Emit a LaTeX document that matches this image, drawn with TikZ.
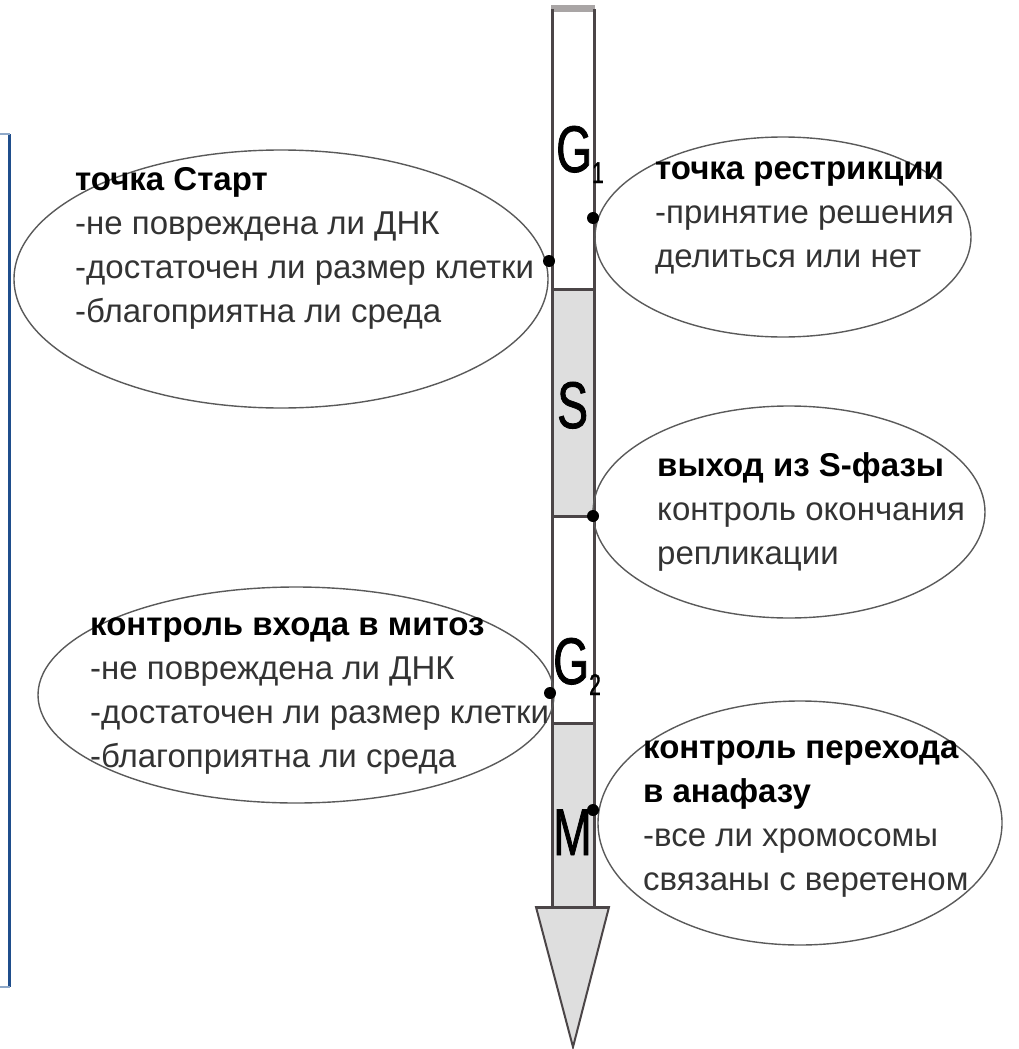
\documentclass[tikz,border=0pt]{standalone}
\usepackage{fontspec}
\setmainfont{Liberation Sans}
\newfontfamily\phasefont[FakeStretch=0.7,FakeBold=1.2]{Liberation Sans}
\usetikzlibrary{shapes.geometric}

\definecolor{shaftline}{HTML}{4B4547}
\definecolor{phasefill}{HTML}{DEDEDE}
\definecolor{capgray}{HTML}{A9A5A5}
\definecolor{ovalline}{HTML}{5A5A5A}
\definecolor{frameblue}{HTML}{1F4E8C}
\definecolor{framelight}{HTML}{8FA9C9}
\definecolor{bodytext}{HTML}{333333}

\newcommand{\ovalbold}[1]{{\color{black}\bfseries #1}}

\begin{document}
\begin{tikzpicture}[
	x=1pt, y=-1pt,
	check/.style={
		draw=ovalline, ellipse,
		line width=1.4pt,
		inner sep=0pt
	},
	note/.style={
		anchor=north west,
		align=left,
		inner sep=0pt,
		text=bodytext,
		font=\fontsize{33}{44}\selectfont,
		execute at begin node=\rule{0pt}{26pt}
	},
	dot/.style={
		circle, fill=black,
		inner sep=0pt,
		minimum size=12pt
	},
	phase/.style={
		anchor=base west,
		inner sep=0pt,
		font=\phasefont\fontsize{66}{66}\selectfont
	},
	shaft/.style={draw=shaftline, line width=3pt}
	]
	
	\useasboundingbox (0,0) rectangle (1019,1049);
	
	% frame edge on the left
	\draw[frameblue, line width=3pt] (9,134) -- (9,987);
	\draw[framelight, line width=2pt] (0,134) -- (10,134);
	\draw[framelight, line width=2pt] (0,987) -- (10,987);
	
	% cell cycle shaft
	\fill[phasefill] (552,289) rectangle (594,516);
	\fill[phasefill] (552,723) rectangle (594,907);
	\fill[capgray] (551,5) rectangle (595,12);
	\draw[shaft] (552,9) -- (552,907);
	\draw[shaft] (594,9) -- (594,907);
	\draw[shaft] (552,289) -- (594,289);
	\draw[shaft] (552,516) -- (594,516);
	\draw[shaft] (552,723) -- (594,723);
	\filldraw[draw=shaftline, fill=phasefill, line width=2pt] (536,907) -- (609,907) -- (573,1047) -- cycle;
	\draw[shaft] (536,907) -- (609,907);
	
	\node[phase] (g1) at (556,172) {G\raisebox{-11pt}{\fontsize{30}{30}\selectfont 1}};
	\node[phase] (s)  at (557,428) {S};
	\node[phase] (g2) at (553,684) {G\raisebox{-11pt}{\fontsize{30}{30}\selectfont 2}};
	\node[phase] (m)  at (553,855) {M};
	
	% checkpoints
	\node[check, minimum width=534pt, minimum height=258pt] (start) at (281,279) {};
	\node[check, minimum width=376pt, minimum height=200pt] (restr) at (783,237) {};
	\node[check, minimum width=392pt, minimum height=212pt] (sexit) at (789,512) {};
	\node[check, minimum width=516pt, minimum height=216pt] (mitos) at (296,695) {};
	\node[check, minimum width=404pt, minimum height=244pt] (anaph) at (800,823) {};
	
	\node[note] (startT) at (75,167) {\ovalbold{точка Старт}\\-не повреждена ли ДНК\\-достаточен ли размер клетки\\-благоприятна ли среда};
	\node[note] (restrT) at (655,161) {\ovalbold{точка рестрикции}\\-принятие решения\\делиться или нет};
	\node[note] (sexitT) at (657,452) {\ovalbold{выход из S-фазы}\\контроль окончания\\репликации};
	\node[note] (mitosT) at (90,617) {\ovalbold{контроль входа в митоз}\\-не повреждена ли ДНК\\-достаточен ли размер клетки\\-благоприятна ли среда};
	\node[note] (anaphT) at (643,740) {\ovalbold{контроль перехода}\\\ovalbold{в анафазу}\\-все ли хромосомы\\связаны с веретеном};
	
	\node[dot] (dRestr) at (593,218) {};
	\node[dot] (dStart) at (549,261) {};
	\node[dot] (dSexit) at (593,516) {};
	\node[dot] (dMitos) at (550,693) {};
	\node[dot] (dAnaph) at (593,810) {};
	
\end{tikzpicture}
\end{document}
